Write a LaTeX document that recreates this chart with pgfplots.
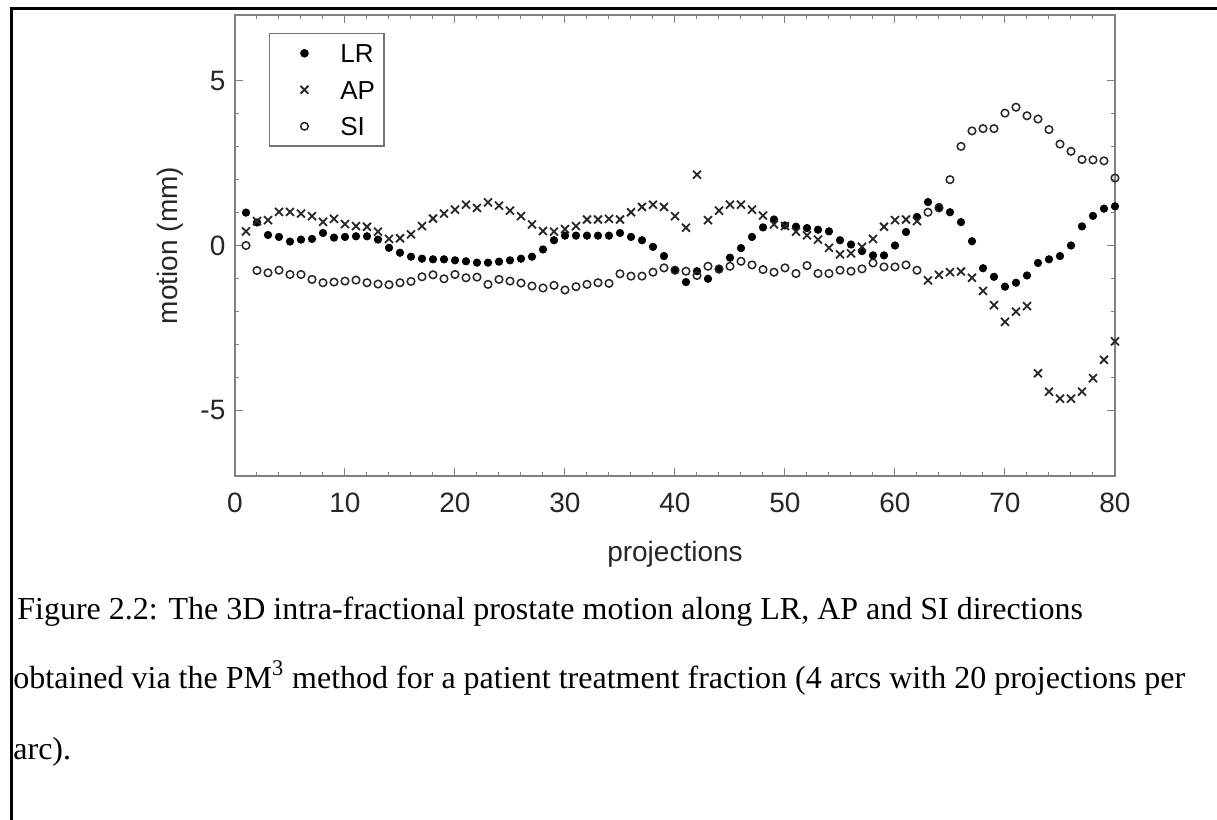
\documentclass[border=0pt]{standalone}
\usepackage{fontspec}
\setmainfont{Liberation Serif}
\newfontfamily\arial{Liberation Sans}
\usepackage{pgfplots}
\pgfplotsset{compat=1.18}
\pgfplotstableread{
x LR AP SI
1 1.00 0.43 0.00
2 0.70 0.74 -0.76
3 0.32 0.77 -0.83
4 0.26 1.02 -0.75
5 0.12 1.02 -0.88
6 0.18 0.97 -0.88
7 0.20 0.89 -1.03
8 0.38 0.72 -1.13
9 0.24 0.81 -1.11
10 0.26 0.65 -1.08
11 0.28 0.59 -1.05
12 0.28 0.57 -1.13
13 0.18 0.42 -1.17
14 -0.07 0.20 -1.19
15 -0.22 0.22 -1.13
16 -0.34 0.34 -1.09
17 -0.40 0.59 -0.95
18 -0.42 0.82 -0.89
19 -0.42 0.97 -1.01
20 -0.45 1.09 -0.88
21 -0.48 1.24 -0.98
22 -0.52 1.14 -0.96
23 -0.52 1.31 -1.18
24 -0.49 1.21 -1.03
25 -0.45 1.06 -1.08
26 -0.40 0.89 -1.14
27 -0.34 0.64 -1.23
28 -0.12 0.44 -1.29
29 0.16 0.42 -1.21
30 0.30 0.50 -1.35
31 0.30 0.59 -1.25
32 0.30 0.79 -1.18
33 0.30 0.79 -1.13
34 0.30 0.81 -1.15
35 0.38 0.79 -0.86
36 0.26 1.01 -0.93
37 0.16 1.17 -0.93
38 -0.04 1.24 -0.81
39 -0.32 1.17 -0.68
40 -0.75 0.89 -0.75
41 -1.11 0.54 -0.78
42 -0.78 2.15 -0.91
43 -1.01 0.77 -0.63
44 -0.73 1.06 -0.71
45 -0.37 1.24 -0.63
46 -0.08 1.24 -0.48
47 0.26 1.09 -0.59
48 0.55 0.91 -0.73
49 0.79 0.64 -0.81
50 0.61 0.59 -0.68
51 0.57 0.42 -0.85
52 0.53 0.31 -0.61
53 0.48 0.18 -0.85
54 0.43 -0.07 -0.85
55 0.16 -0.27 -0.75
56 0.03 -0.24 -0.78
57 -0.17 -0.04 -0.71
58 -0.30 0.20 -0.53
59 -0.30 0.57 -0.65
60 0.00 0.77 -0.65
61 0.41 0.79 -0.59
62 0.87 0.74 -0.75
63 1.32 -1.06 1.01
64 1.17 -0.89 1.14
65 1.01 -0.81 2.00
66 0.71 -0.79 3.01
67 0.13 -0.98 3.48
68 -0.69 -1.38 3.55
69 -0.95 -1.81 3.55
70 -1.25 -2.32 4.02
71 -1.13 -2.01 4.20
72 -0.91 -1.84 3.94
73 -0.53 -3.88 3.84
74 -0.42 -4.44 3.52
75 -0.32 -4.65 3.08
76 0.00 -4.65 2.86
77 0.58 -4.44 2.61
78 0.90 -4.03 2.60
79 1.12 -3.47 2.57
80 1.19 -2.91 2.05
}\datatable
\begin{document}
\begin{tikzpicture}[x=1pt,y=1pt]
\path[use as bounding box] (0,0) rectangle (608.5,-410);
\draw[line width=1.4pt] (5.6,-410) -- (5.6,-4.2) -- (608.5,-4.2);
\begin{axis}[
  at={(117.5pt,-238pt)}, anchor=south west,
  scale only axis, width=440pt, height=230.5pt,
  xmin=0, xmax=80, ymin=-7, ymax=7,
  xtick={0,10,...,80}, ytick={-5,0,5},
  minor x tick num=4, minor y tick num=4,
  tick align=inside, major tick length=4pt, minor tick length=2pt,
  axis line style={black!50, line width=0.6pt},
  every tick/.style={black!50, line width=0.5pt},
  /pgf/number format/assume math mode=true,
  tick label style={font=\arial\fontsize{14}{16}\selectfont, text=black!85},
  xticklabel shift=5pt, yticklabel shift=1.3pt,
  xlabel={projections}, ylabel={motion (mm)},
  label style={font=\arial\fontsize{14}{16}\selectfont, text=black!85},
  xlabel style={at={(axis description cs:0.5,-0.17)}, anchor=center},
  ylabel style={at={(axis description cs:-0.074,0.5)}, anchor=center},
  legend image code/.code={\path (-12.5pt,0pt) (1.8pt,0pt); \draw[#1] plot coordinates {(0pt,0pt)};},
  legend style={at={(0.0386,0.961)}, anchor=north west, draw=black!55,
    font=\arial\fontsize{13}{15}\selectfont, text=black,
    nodes={inner sep=0pt, text height=9.3pt, text depth=0pt},
    row sep=8.95pt, column sep=15.7pt,
    inner xsep=4.5pt, inner ysep=5.2pt, line width=0.6pt},
  legend cell align=left,
]
\addplot[only marks, mark=*, mark size=1.85pt, black] table[x=x, y=LR] {\datatable};
\addlegendentry{LR}
\addplot[only marks, mark=x, mark size=2.8pt, black!85, line width=0.9pt] table[x=x, y=AP] {\datatable};
\addlegendentry{AP}
\addplot[only marks, mark=o, mark size=1.9pt, black!85, line width=0.75pt] table[x=x, y=SI] {\datatable};
\addlegendentry{SI}
\end{axis}
\begin{scope}[font=\fontsize{16}{19}\selectfont]
\node[anchor=base west, inner sep=0] at (8.5,-309.5) {Figure 2.2: The 3D intra-fractional prostate motion along LR, AP and SI directions};
\node[anchor=base west, inner sep=0] at (6.5,-344) {obtained via the PM\textsuperscript{3} method for a patient treatment fraction (4 arcs with 20 projections per};
\node[anchor=base west, inner sep=0] at (6.5,-379.5) {arc).};
\end{scope}
\end{tikzpicture}
\end{document}
